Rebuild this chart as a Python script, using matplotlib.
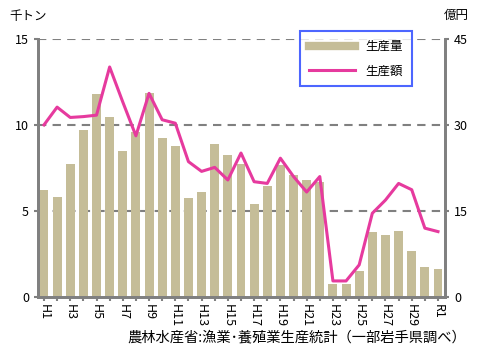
import numpy as np
import matplotlib.pyplot as plt

plt.rcParams['font.family'] = ['Noto Sans CJK JP', 'DejaVu Sans']

years = ["H1", "H2", "H3", "H4", "H5", "H6", "H7", "H8", "H9", "H10",
         "H11", "H12", "H13", "H14", "H15", "H16", "H17", "H18", "H19", "H20",
         "H21", "H22", "H23", "H24", "H25", "H26", "H27", "H28", "H29", "H30", "R1"]

# 生産量 (千トン)
volume = [6.2, 5.83, 7.73, 9.7, 11.8, 10.45, 8.49, 9.6, 11.88, 9.26,
          8.78, 5.77, 6.1, 8.9, 8.26, 7.73, 5.4, 6.45, 7.67, 7.09,
          6.8, 6.7, 0.76, 0.76, 1.53, 3.78, 3.62, 3.85, 2.67, 1.74, 1.63]

# 生産額 (億円)
value = [30.0, 33.1, 31.3, 31.45, 31.7, 40.1, 34.0, 28.1, 35.5, 30.9,
         30.3, 23.6, 21.9, 22.6, 20.4, 25.1, 20.1, 19.8, 24.2, 21.0,
         18.3, 21.0, 2.8, 2.8, 5.6, 14.6, 16.9, 19.8, 18.7, 12.0, 11.4]

tick_labels = [y if i % 2 == 0 else "" for i, y in enumerate(years)]

bar_color = "#C5BD98"
line_color = "#E63A9E"
axis_gray = "#808080"

fig = plt.figure(figsize=(4.8, 3.6), dpi=100)
ax = fig.add_axes([0.079, 0.175, 0.848, 0.717])
x = np.arange(len(years))

for yv in [5, 10, 15]:
    ax.axhline(yv, color=axis_gray, lw=1.5, ls=(0, (4, 3)), zorder=0)

ax.bar(x, volume, width=0.68, color=bar_color, zorder=2)
ax.set_ylim(0, 15)
ax.set_xlim(-0.46, 30.53)
ax.set_yticks([0, 5, 10, 15])
ax.set_xticks(x)
ax.set_xticklabels(tick_labels, rotation=-90, fontsize=9)

ax2 = ax.twinx()
ax2.plot(x, value, color=line_color, lw=2.2, zorder=3)
ax2.set_ylim(0, 45)
ax2.set_yticks([0, 15, 30, 45])

for a in (ax, ax2):
    a.spines['top'].set_visible(False)
    for s in ('left', 'right', 'bottom'):
        a.spines[s].set_color(axis_gray)
        a.spines[s].set_linewidth(2)
    a.tick_params(colors=axis_gray, labelcolor="black", labelsize=9, length=3, width=1.5)
ax.tick_params(axis='x', pad=2)

fig.text(0.02, 0.955, "千トン", fontsize=9, va="center")
fig.text(0.925, 0.958, "億円", fontsize=9, va="center")
fig.text(0.972, 0.062, "農林水産省:漁業･養殖業生産統計（一部岩手県調べ）",
         fontsize=10.3, ha="right", va="center")

h1, = ax.plot([], [], color=bar_color, lw=6)
h2, = ax.plot([], [], color=line_color, lw=2.2)
leg = fig.legend([h1, h2], ["生産量", "生産額"], loc="upper left",
                 bbox_to_anchor=(0.613, 0.93), frameon=True, fancybox=False,
                 fontsize=9, handlelength=3.7, labelspacing=0.9, borderpad=0.7)
leg.get_frame().set_edgecolor("#2040FF")
leg.get_frame().set_linewidth(1.5)

fig.savefig("out.png", dpi=100)
